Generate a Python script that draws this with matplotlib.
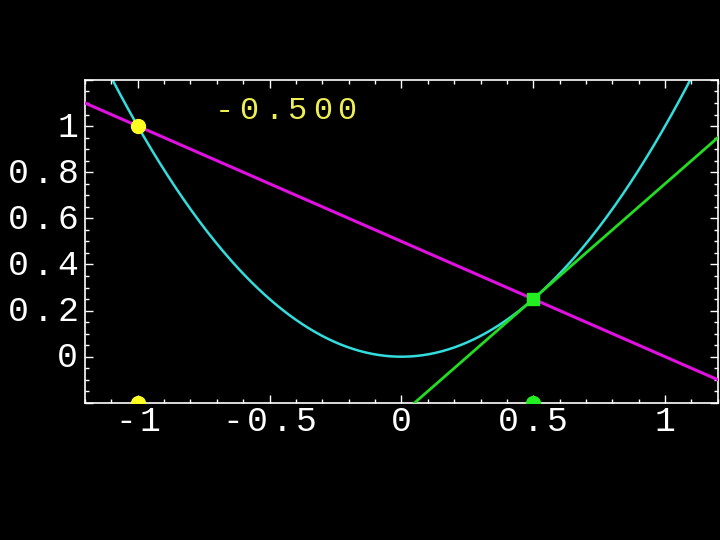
import numpy as np
import matplotlib.pyplot as plt
import matplotlib.transforms as mtransforms
from matplotlib.ticker import MultipleLocator

# secant through two points on y = x^2, tangent at the second point
pt_x = [-1.0, 0.5]
pt_y = [1.0, 0.25]
tangent_slope = 1.0
label_text = "-0.500"
xtick_vals = [-1, -0.5, 0, 0.5, 1]
xtick_labels = ["-1", "-0.5", "0", "0.5", "1"]
ytick_vals = [0, 0.2, 0.4, 0.6, 0.8, 1]
ytick_labels = ["0", "0.2", "0.4", "0.6", "0.8", "1"]

xmin, xmax = -1.2, 1.2
ymin, ymax = -0.2, 1.2

FONT = "Liberation Mono"
PITCH = 24.5  # px per character, the old-style wide letter spacing


def spaced_text(ax, x, y, s, transform, ha="center", dx=0, dy=0, **kw):
    """draw s one char at a time on a fixed pitch (dx, dy in pixels)"""
    width = PITCH * len(s)
    if ha == "center":
        start = -width / 2
    elif ha == "right":
        start = -width
    else:
        start = 0
    for i, ch in enumerate(s):
        off = mtransforms.offset_copy(transform, fig=ax.figure,
                                      x=dx + start + PITCH * (i + 0.5), y=dy,
                                      units="dots")
        ax.text(x, y, ch, transform=off, ha="center", va="center",
                family=FONT, clip_on=False, **kw)


fg = "white"
fig = plt.figure(figsize=(7.2, 5.4), dpi=100, facecolor="black")
ax = fig.add_axes([0.118, 0.254, 0.879, 0.598], facecolor="black")

xs = np.linspace(xmin, xmax, 400)
ax.plot(xs, xs ** 2, color="#33dddd", lw=1.8, zorder=2)

secant_slope = (pt_y[1] - pt_y[0]) / (pt_x[1] - pt_x[0])
ends = np.array([xmin, xmax])
ax.plot(ends, pt_y[0] + secant_slope * (ends - pt_x[0]), color="#e010e0", lw=2.2, zorder=3)
ax.plot(ends, pt_y[1] + tangent_slope * (ends - pt_x[1]), color="#22dd22", lw=2.0, zorder=3)

ax.plot(pt_x[0], pt_y[0], "o", color="#ffff22", ms=10, zorder=5)
ax.plot(pt_x[1], pt_y[1], "s", color="#22ee22", ms=9, zorder=5)
ax.plot(pt_x[0], ymin, "o", color="#ffff22", ms=10, zorder=5)
ax.plot(pt_x[1], ymin, "o", color="#22ee22", ms=10, zorder=5)

ax.set_xlim(xmin, xmax)
ax.set_ylim(ymin, ymax)
ax.xaxis.set_major_locator(MultipleLocator(0.5))
ax.xaxis.set_minor_locator(MultipleLocator(0.1))
ax.yaxis.set_major_locator(MultipleLocator(0.2))
ax.yaxis.set_minor_locator(MultipleLocator(0.05))
ax.tick_params(which="both", direction="in", colors=fg, top=True, right=True,
               labelbottom=False, labelleft=False, width=1)
ax.tick_params(which="major", length=6)
ax.tick_params(which="minor", length=3)
for s in ax.spines.values():
    s.set_color(fg)
    s.set_linewidth(1.2)

# tick labels drawn by hand for the spacing
xt = ax.get_xaxis_transform()
for v, lab in zip(xtick_vals, xtick_labels):
    spaced_text(ax, v, 0, lab, xt, ha="center", dy=-19, color=fg, fontsize=25)
yt = ax.get_yaxis_transform()
for v, lab in zip(ytick_vals, ytick_labels):
    spaced_text(ax, 0, v, lab, yt, ha="right", dx=-5, dy=-1, color=fg, fontsize=25)

spaced_text(ax, -0.717, 1.065, label_text, ax.transData, ha="left",
            color="#eeee55", fontsize=23)

fig.savefig("out.png", facecolor="black")
